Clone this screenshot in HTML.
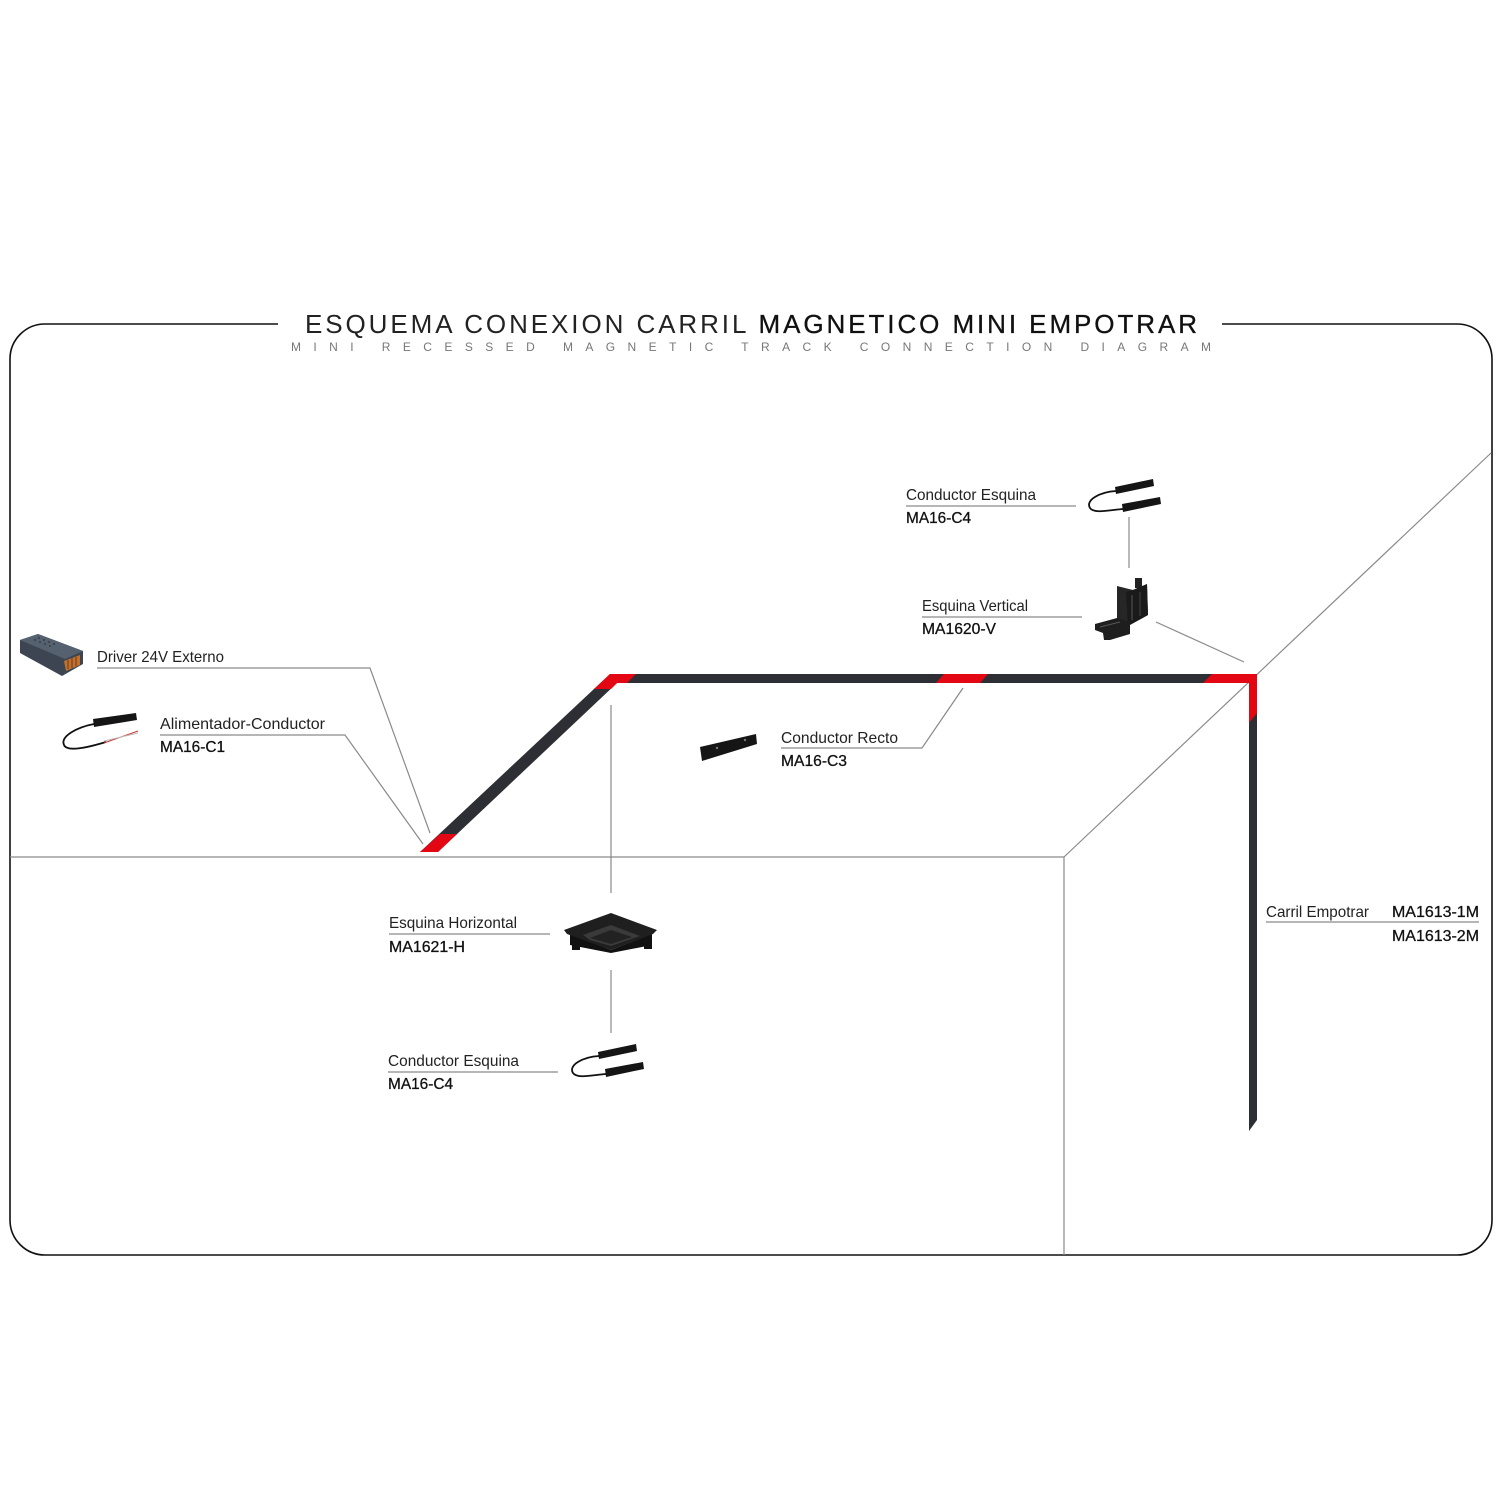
<!DOCTYPE html>
<html>
<head>
<meta charset="utf-8">
<style>
html,body{margin:0;padding:0;background:#fff;width:1500px;height:1500px;overflow:hidden;}
svg{display:block;}
.lbl{font-family:"Liberation Sans",sans-serif;font-size:16px;fill:#222;}
.code{font-family:"Liberation Sans",sans-serif;font-size:16px;fill:#111;stroke:#111;stroke-width:0.3;}
.g{stroke:#8a8a8a;stroke-width:1.2;fill:none;}
</style>
</head>
<body>
<svg width="1500" height="1500" viewBox="0 0 1500 1500" xmlns="http://www.w3.org/2000/svg">
<!-- Frame -->
<path d="M278,324 L45,324 A35,35 0 0 0 10,359 L10,1220 A35,35 0 0 0 45,1255 L1457,1255 A35,35 0 0 0 1492,1220 L1492,359 A35,35 0 0 0 1457,324 L1222,324" fill="none" stroke="#111" stroke-width="1.6"/>

<!-- Title -->
<text x="305" y="333" font-family="'Liberation Sans',sans-serif" font-size="26" fill="#222" textLength="892" lengthAdjust="spacing">ESQUEMA CONEXION CARRIL <tspan stroke="#111" stroke-width="0.3" fill="#111">MAGNETICO MINI EMPOTRAR</tspan></text>
<text x="291" y="351" font-family="'Liberation Sans',sans-serif" font-size="12" fill="#777" textLength="920" lengthAdjust="spacing">MINI RECESSED MAGNETIC TRACK CONNECTION DIAGRAM</text>

<!-- Room lines -->
<line class="g" x1="10" y1="857" x2="1064" y2="857"/>
<line class="g" x1="1064" y1="857" x2="1064" y2="1255"/>
<line class="g" x1="1064" y1="857" x2="1491" y2="453"/>
<line class="g" x1="611" y1="705" x2="611" y2="893"/>
<line class="g" x1="611" y1="970" x2="611" y2="1033"/>
<line class="g" x1="1129" y1="517" x2="1129" y2="568"/>
<line class="g" x1="1156" y1="622" x2="1244" y2="662"/>

<!-- Leaders -->
<polyline class="g" points="97,668 370,668 430,833"/>
<polyline class="g" points="160,735 345,735 423,844"/>
<polyline class="g" points="781,748 922,748 963,688"/>
<line class="g" x1="906" y1="506" x2="1076" y2="506"/>
<line class="g" x1="922" y1="617" x2="1082" y2="617"/>
<line class="g" x1="389" y1="934" x2="550" y2="934"/>
<line class="g" x1="388" y1="1072" x2="558" y2="1072"/>
<line class="g" x1="1266" y1="922" x2="1479" y2="922"/>

<!-- Track -->
<polygon points="420,852 610,674 1257,674 1257,1120 1249,1131 1249,683 617,683 438,852" fill="#2e2f34"/>
<polygon points="420,852 438,852 457,834 440,834" fill="#e30613"/>
<polygon points="594,689 610,674 636,674 627,683 617,683 611,689" fill="#e30613"/>
<polygon points="944,674 988,674 980,683 936,683" fill="#e30613"/>
<polygon points="1212,674 1257,674 1257,713 1249,723 1249,683 1203,683" fill="#e30613"/>

<!-- Driver -->
<polygon points="20,640 38,634 83,651 83,664 62,676 20,653" fill="#3c4551"/>
<polygon points="20,640 38,634 83,651 65,659" fill="#56616f"/>
<g fill="#2b323b">
<circle cx="35" cy="640" r="0.9"/><circle cx="40" cy="642" r="0.9"/><circle cx="45" cy="644" r="0.9"/><circle cx="50" cy="646" r="0.9"/>
<circle cx="39" cy="638" r="0.9"/><circle cx="44" cy="640" r="0.9"/><circle cx="49" cy="642" r="0.9"/><circle cx="54" cy="644" r="0.9"/>
</g>
<polygon points="64,661 80,655 80,665 66,671" fill="#c0702f"/>
<line x1="68" y1="660" x2="68" y2="669" stroke="#6a3a15" stroke-width="1"/>
<line x1="72" y1="658" x2="72" y2="668" stroke="#6a3a15" stroke-width="1"/>
<line x1="76" y1="657" x2="76" y2="666" stroke="#6a3a15" stroke-width="1"/>

<!-- Alimentador-Conductor -->
<polygon points="93,719 136,713 137,720 94,727" fill="#151515"/>
<path d="M94,724 C78,727 60,736 64,745 C67,752 86,748 106,742" stroke="#111" stroke-width="1.8" fill="none"/>
<line x1="104" y1="743" x2="138" y2="731" stroke="#c33" stroke-width="1"/>
<line x1="104" y1="741" x2="138" y2="733" stroke="#bbb" stroke-width="1"/>

<!-- Conductor Recto -->
<polygon points="700,747 756,734 757,744 702,761" fill="#151515"/>
<circle cx="717" cy="748" r="1.2" fill="#777"/><circle cx="745" cy="740" r="1.2" fill="#777"/>

<!-- Conductor Esquina top -->
<polygon points="1115,487 1153,479 1154,486 1116,494" fill="#151515"/>
<polygon points="1122,504 1160,497 1161,504 1123,512" fill="#151515"/>
<path d="M1116,491 C1100,492 1085,500 1090,508 C1094,514 1110,510 1123,509" stroke="#111" stroke-width="1.8" fill="none"/>

<!-- Conductor Esquina bottom -->
<polygon points="598,1052 636,1044 637,1051 599,1059" fill="#151515"/>
<polygon points="605,1069 643,1062 644,1069 606,1077" fill="#151515"/>
<path d="M599,1056 C583,1057 568,1065 573,1073 C577,1079 593,1075 606,1074" stroke="#111" stroke-width="1.8" fill="none"/>

<!-- Esquina Vertical -->
<rect x="1135" y="578" width="7" height="10" fill="#222"/>
<polygon points="1117,586 1133,590 1147,584 1148,615 1128,626 1117,622" fill="#262626"/>
<polygon points="1126,592 1133,590 1147,584 1148,615 1128,626" fill="#1a1a1a"/>
<line x1="1132" y1="595" x2="1132" y2="620" stroke="#555" stroke-width="1"/>
<line x1="1140" y1="592" x2="1140" y2="616" stroke="#444" stroke-width="1"/>
<polygon points="1095,624 1117,618 1130,622 1130,634 1110,640 1104,640 1103,633 1095,630" fill="#1e1e1e"/>
<line x1="1100" y1="627" x2="1120" y2="622" stroke="#555" stroke-width="1"/>

<!-- Esquina Horizontal -->
<polygon points="570,934 611,950 652,934 652,945 611,953 570,945" fill="#111"/>
<polygon points="564,930 611,913 657,930 653,934 611,950 567,934" fill="#1f1f1f"/>
<polygon points="583,935 611,925 640,936 611,946 590,940" fill="#3a3a3a"/>
<polygon points="590,938 611,930 632,937 611,944" fill="#222"/>
<rect x="572" y="944" width="8" height="6" fill="#111"/>
<rect x="644" y="943" width="8" height="6" fill="#111"/>

<!-- Labels -->
<text class="lbl" x="97" y="662" textLength="127" lengthAdjust="spacingAndGlyphs">Driver 24V Externo</text>
<text class="lbl" x="160" y="729" textLength="165" lengthAdjust="spacingAndGlyphs">Alimentador-Conductor</text>
<text class="code" x="160" y="752" textLength="65" lengthAdjust="spacingAndGlyphs">MA16-C1</text>

<text class="lbl" x="781" y="743" textLength="117" lengthAdjust="spacingAndGlyphs">Conductor Recto</text>
<text class="code" x="781" y="766" textLength="66" lengthAdjust="spacingAndGlyphs">MA16-C3</text>

<text class="lbl" x="906" y="500" textLength="130" lengthAdjust="spacingAndGlyphs">Conductor Esquina</text>
<text class="code" x="906" y="523" textLength="65" lengthAdjust="spacingAndGlyphs">MA16-C4</text>

<text class="lbl" x="922" y="611" textLength="106" lengthAdjust="spacingAndGlyphs">Esquina Vertical</text>
<text class="code" x="922" y="634" textLength="74" lengthAdjust="spacingAndGlyphs">MA1620-V</text>

<text class="lbl" x="389" y="928" textLength="128" lengthAdjust="spacingAndGlyphs">Esquina Horizontal</text>
<text class="code" x="389" y="952" textLength="76" lengthAdjust="spacingAndGlyphs">MA1621-H</text>

<text class="lbl" x="388" y="1066" textLength="131" lengthAdjust="spacingAndGlyphs">Conductor Esquina</text>
<text class="code" x="388" y="1089" textLength="65" lengthAdjust="spacingAndGlyphs">MA16-C4</text>

<text class="lbl" x="1266" y="917" textLength="103" lengthAdjust="spacingAndGlyphs">Carril Empotrar</text>
<text class="code" x="1392" y="917" textLength="87" lengthAdjust="spacingAndGlyphs">MA1613-1M</text>
<text class="code" x="1392" y="941" textLength="87" lengthAdjust="spacingAndGlyphs">MA1613-2M</text>
</svg>
</body>
</html>
